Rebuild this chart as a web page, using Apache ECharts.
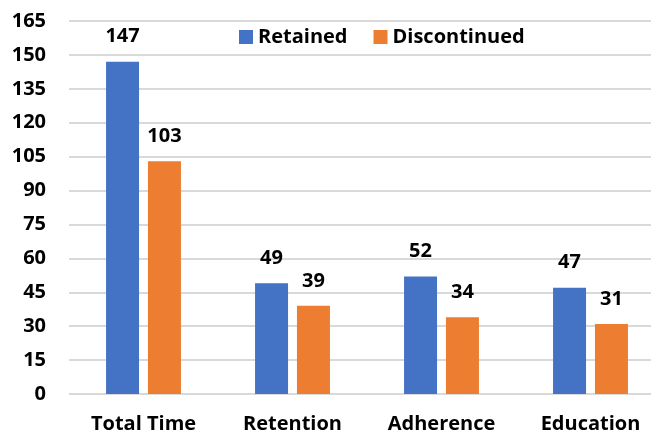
<!DOCTYPE html>
<html>
<head>
<meta charset="utf-8">
<script src="https://cdn.jsdelivr.net/npm/echarts@6/dist/echarts.min.js"></script>
<style>
  html, body { margin: 0; padding: 0; background: #fff; }
  #chart { width: 651px; height: 434px; }
</style>
</head>
<body>
<div id="chart"></div>
<script>
const categories = ['Total Time', 'Retention', 'Adherence', 'Education'];
const retained = [147, 49, 52, 47];
const discontinued = [103, 39, 34, 31];
const yTicks = { min: 0, max: 165, interval: 15 };

const font = '"Open Sans", Lato, sans-serif';
const chart = echarts.init(document.getElementById('chart'));

const labelStyle = {
  show: true,
  position: 'top',
  distance: 15,
  color: '#000',
  fontFamily: font,
  fontWeight: 'bold',
  fontSize: 20
};

chart.setOption({
  animation: false,
  backgroundColor: '#fff',
  textStyle: { fontFamily: font },
  grid: { left: 69, right: -14, top: 21, bottom: 40, outerBoundsMode: 'none' },
  legend: {
    left: 234,
    top: 22,
    itemWidth: 14,
    itemHeight: 14,
    itemGap: 26,
    icon: 'rect',
    textStyle: { color: '#000', fontSize: 20, fontWeight: 'bold', fontFamily: font },
    data: ['Retained', 'Discontinued']
  },
  xAxis: {
    type: 'category',
    data: categories,
    axisLine: { show: false },
    axisTick: { show: false },
    axisLabel: { color: '#000', fontSize: 20, fontWeight: 'bold', fontFamily: font, margin: 20 }
  },
  yAxis: {
    type: 'value',
    min: yTicks.min,
    max: yTicks.max,
    interval: yTicks.interval,
    axisLine: { show: false },
    axisTick: { show: false },
    axisLabel: { color: '#000', fontSize: 20, fontWeight: 'bold', fontFamily: font, margin: 23 },
    splitLine: { lineStyle: { color: '#d9d9d9', width: 2 } }
  },
  series: [
    {
      name: 'Retained',
      type: 'bar',
      data: retained,
      barWidth: 33,
      barGap: '27%',
      itemStyle: { color: '#4472c4' },
      label: labelStyle
    },
    {
      name: 'Discontinued',
      type: 'bar',
      data: discontinued,
      barWidth: 33,
      itemStyle: { color: '#ed7d31' },
      label: labelStyle
    }
  ]
});
</script>
</body>
</html>
